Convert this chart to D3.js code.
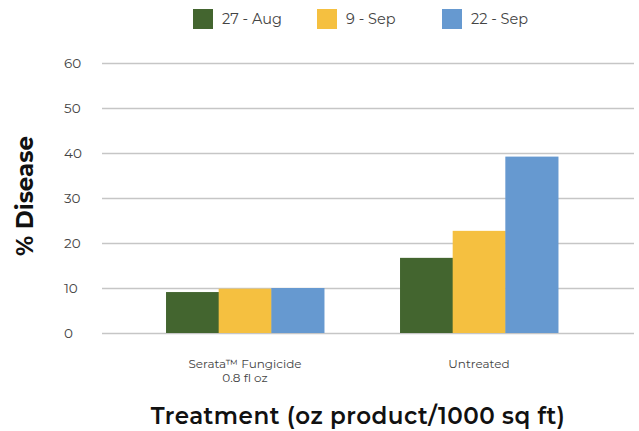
<!DOCTYPE html>
<html><head><meta charset="utf-8">
<script src="https://cdn.jsdelivr.net/npm/d3@7"></script>
<style>body{margin:0;background:#fff}svg{display:block}</style>
</head><body>
<svg id="c" width="639" height="431"></svg>
<script>
const categories = [["Serata™ Fungicide","0.8 fl oz"],["Untreated"]];
const seriesNames = ["27 - Aug","9 - Sep","22 - Sep"];
const seriesColors = ["#43652f","#f5c040","#6699d0"];
const aug27 = [9.1, 16.7];
const sep9 = [9.85, 22.7];
const sep22 = [10.0, 39.2];
const yTicks = [0,10,20,30,40,50,60];
const series = [aug27, sep9, sep22];

const svg = d3.select("#c");
const font = "Montserrat, 'Open Sans', sans-serif";
const y = d3.scaleLinear().domain([0,60]).range([333,63]);
const x0 = d3.scaleBand().domain(d3.range(categories.length)).range([128,596]).paddingInner(0.325).paddingOuter(0.1625);
const x1 = d3.scaleBand().domain(d3.range(series.length)).range([0,x0.bandwidth()]);

// gridlines
const yAxis = d3.axisLeft(y).tickValues(yTicks).tickSize(-(634-102)).tickPadding(22);
const ga = svg.append("g").attr("transform","translate(102,0)").call(yAxis);
ga.select(".domain").remove();
ga.selectAll(".tick line").attr("stroke","#c6c6c6").attr("stroke-width",1.5);
ga.selectAll(".tick text").attr("fill","#444").style("font-family",font).style("font-size","13.5px").attr("text-anchor","start").attr("x",-38);

// bars
categories.forEach((c,i)=>{
  const g = svg.append("g").attr("transform",`translate(${x0(i)},0)`);
  series.forEach((s,j)=>{
    g.append("rect").attr("x",x1(j)).attr("width",x1.bandwidth()+0.5)
      .attr("y",y(s[i])).attr("height",y(0)-y(s[i])).attr("fill",seriesColors[j]);
  });
  const t = svg.append("text").attr("x",x0(i)+x0.bandwidth()/2).attr("y",368)
    .attr("text-anchor","middle").attr("fill","#444").style("font-family",font).style("font-size","12px");
  c.forEach((line,k)=>t.append("tspan").attr("x",x0(i)+x0.bandwidth()/2).attr("dy",k?14:0).text(line));
});

// axis titles
svg.append("text").attr("x",358).attr("y",424).attr("text-anchor","middle").attr("fill","#111")
  .style("font-family",font).style("font-size","23px").style("font-weight","600").style("letter-spacing","0.5px")
  .text("Treatment (oz product/1000 sq ft)");
svg.append("text").attr("transform","translate(33,196) rotate(-90)").attr("text-anchor","middle").attr("fill","#111")
  .style("font-family",font).style("font-size","23px").style("font-weight","700").text("% Disease");

// legend
const legX = [193,317,442];
seriesNames.forEach((n,j)=>{
  svg.append("rect").attr("x",legX[j]).attr("y",9).attr("width",20).attr("height",20).attr("fill",seriesColors[j]);
  svg.append("text").attr("x",legX[j]+29).attr("y",24).attr("fill","#444").style("font-family",font).style("font-size","14.5px").text(n);
});
</script>
</body></html>
